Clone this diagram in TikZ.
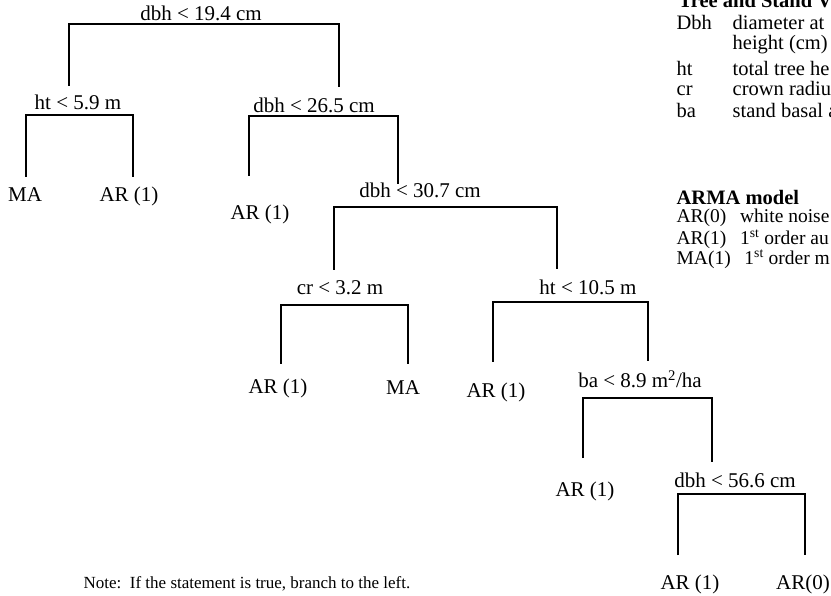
\documentclass[tikz,border=0pt]{standalone}
\usepackage{fontspec}
\setmainfont{Liberation Serif}
\begin{document}
\begin{tikzpicture}[x=1pt, y=-1pt, line width=1.3pt]
	\tikzset{split/.style={anchor=base, inner sep=0pt, font=\fontsize{21}{23}\selectfont},
		leaf/.style={split},
		key/.style={anchor=base west, inner sep=0pt, font=\fontsize{20.5}{22}\selectfont},
		model/.style={key, font=\fontsize{19.5}{21}\selectfont},
		note/.style={anchor=base west, inner sep=0pt, font=\fontsize{17}{19}\selectfont}}
	\useasboundingbox (0,0) rectangle (831,596);
		\node[split] (s1) at (201,21) {dbh < 19.4 cm};
		\coordinate (S1a) at (69,86);
		\coordinate (S1b) at (69,24);
		\coordinate (S1c) at (339,24);
		\coordinate (S1d) at (339,87);
		\draw (S1a) -- (S1b) -- (S1c) -- (S1d);
		\node[split] (s2) at (78,110) {ht < 5.9 m};
		\coordinate (S2a) at (26,177);
		\coordinate (S2b) at (26,115);
		\coordinate (S2c) at (133,115);
		\coordinate (S2d) at (133,177);
		\draw (S2a) -- (S2b) -- (S2c) -- (S2d);
		\node[split] (s3) at (314,113) {dbh < 26.5 cm};
		\coordinate (S3a) at (249,176);
		\coordinate (S3b) at (249,116);
		\coordinate (S3c) at (398,116);
		\coordinate (S3d) at (398,184);
		\draw (S3a) -- (S3b) -- (S3c) -- (S3d);
		\node[split] (s4) at (420,198) {dbh < 30.7 cm};
		\coordinate (S4a) at (334,270);
		\coordinate (S4b) at (334,207);
		\coordinate (S4c) at (557,207);
		\coordinate (S4d) at (557,269);
		\draw (S4a) -- (S4b) -- (S4c) -- (S4d);
		\node[split] (s5) at (340,295) {cr < 3.2 m};
		\coordinate (S5a) at (281,364);
		\coordinate (S5b) at (281,305);
		\coordinate (S5c) at (408,305);
		\coordinate (S5d) at (408,364);
		\draw (S5a) -- (S5b) -- (S5c) -- (S5d);
		\node[split] (s6) at (588,295) {ht < 10.5 m};
		\coordinate (S6a) at (493,362);
		\coordinate (S6b) at (493,302);
		\coordinate (S6c) at (648,302);
		\coordinate (S6d) at (648,361);
		\draw (S6a) -- (S6b) -- (S6c) -- (S6d);
		\node[split] (s7) at (640,388) {ba < 8.9 m\textsuperscript{2}/ha};
		\coordinate (S7a) at (583,458);
		\coordinate (S7b) at (583,398);
		\coordinate (S7c) at (712,398);
		\coordinate (S7d) at (712,462);
		\draw (S7a) -- (S7b) -- (S7c) -- (S7d);
		\node[split] (s8) at (735,487) {dbh < 56.6 cm};
		\coordinate (S8a) at (678,555);
		\coordinate (S8b) at (678,494);
		\coordinate (S8c) at (805,494);
		\coordinate (S8d) at (805,555);
		\draw (S8a) -- (S8b) -- (S8c) -- (S8d);
		\node[leaf] (l1) at (25,202) {MA};
		\node[leaf] (l2) at (129,202) {AR (1)};
		\node[leaf] (l3) at (260,220) {AR (1)};
		\node[leaf] (l4) at (278,393) {AR (1)};
		\node[leaf] (l5) at (403,395) {MA};
		\node[leaf] (l6) at (496,398) {AR (1)};
		\node[leaf] (l7) at (585,496) {AR (1)};
		\node[leaf] (l8) at (690,589) {AR (1)};
		\node[leaf] (l9) at (803,589) {AR(0)};
		\node[note] (n) at (83,588) {Note:\ \ If the statement is true, branch to the left.};
		\node[key, font=\fontsize{20.5}{22}\selectfont\bfseries] (k0) at (678,8) {Tree and Stand V};
		\node[key] (k1) at (676,30) {Dbh};
		\node[key] (k1t) at (732,30) {diameter at};
		\node[key] (k1u) at (732,50) {height (cm)};
		\node[key] (k2) at (676,76) {ht};
		\node[key] (k2t) at (732,76) {total tree he};
		\node[key] (k3) at (676,96) {cr};
		\node[key] (k3t) at (732,96) {crown radiu};
		\node[key] (k4) at (676,118) {ba};
		\node[key] (k4t) at (732,118) {stand basal a};
		\node[key, font=\fontsize{20.5}{22}\selectfont\bfseries] (m0) at (676,205) {ARMA model};
		\node[model] (m1) at (676,223) {AR(0)\hspace{0.7em}white noise};
		\node[model] (m2) at (676,245) {AR(1)\hspace{0.7em}1\textsuperscript{st} order au};
		\node[model] (m3) at (676,265) {MA(1)\hspace{0.7em}1\textsuperscript{st} order m};
\end{tikzpicture}
\end{document}
